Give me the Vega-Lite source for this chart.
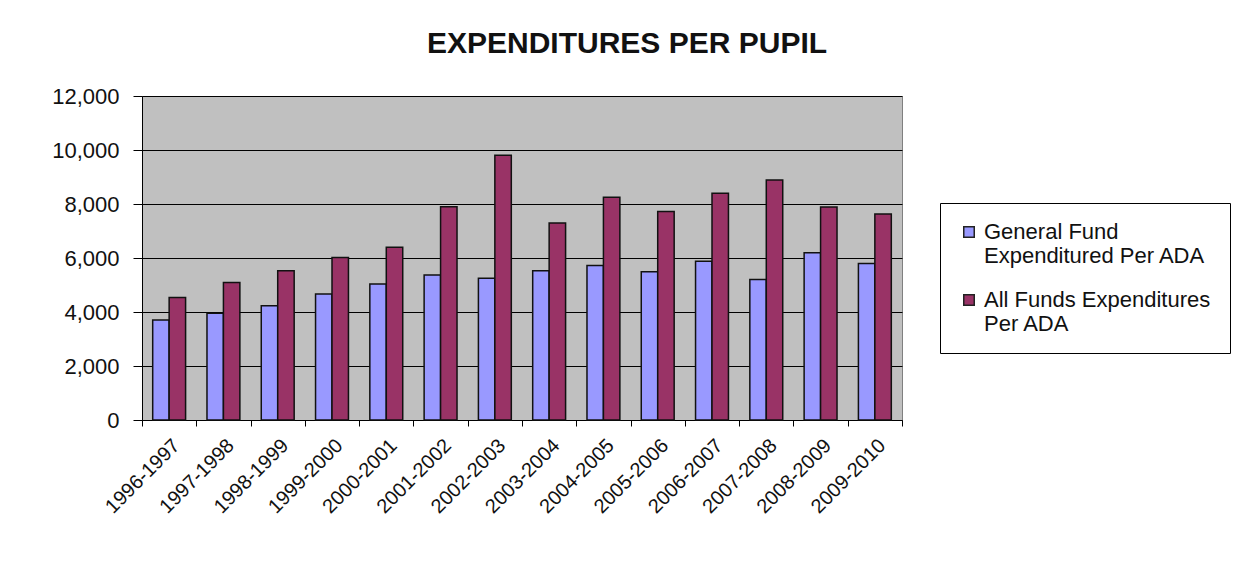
{
  "$schema": "https://vega.github.io/schema/vega-lite/v6.json",
  "width": 760,
  "height": 324,
  "autosize": "none",
  "padding": {"left": 142, "top": 96, "right": 351, "bottom": 158},
  "background": "white",
  "title": {
    "text": "EXPENDITURES PER PUPIL",
    "anchor": "middle",
    "frame": "group",
    "dx": 105,
    "offset": 26,
    "fontSize": 30,
    "fontWeight": "bold",
    "font": "Liberation Sans",
    "color": "#111"
  },
  "config": {
    "font": "Liberation Sans",
    "view": {"fill": "#c0c0c0", "stroke": "#808080", "strokeWidth": 1}
  },
  "data": {
    "values": [
      {"year": "1996-1997", "series": "General Fund Expenditured  Per ADA", "value": 3700},
      {"year": "1996-1997", "series": "All Funds Expenditures Per ADA", "value": 4540},
      {"year": "1997-1998", "series": "General Fund Expenditured  Per ADA", "value": 3950},
      {"year": "1997-1998", "series": "All Funds Expenditures Per ADA", "value": 5090},
      {"year": "1998-1999", "series": "General Fund Expenditured  Per ADA", "value": 4230},
      {"year": "1998-1999", "series": "All Funds Expenditures Per ADA", "value": 5530},
      {"year": "1999-2000", "series": "General Fund Expenditured  Per ADA", "value": 4670},
      {"year": "1999-2000", "series": "All Funds Expenditures Per ADA", "value": 6020},
      {"year": "2000-2001", "series": "General Fund Expenditured  Per ADA", "value": 5040},
      {"year": "2000-2001", "series": "All Funds Expenditures Per ADA", "value": 6400},
      {"year": "2001-2002", "series": "General Fund Expenditured  Per ADA", "value": 5370},
      {"year": "2001-2002", "series": "All Funds Expenditures Per ADA", "value": 7900},
      {"year": "2002-2003", "series": "General Fund Expenditured  Per ADA", "value": 5250},
      {"year": "2002-2003", "series": "All Funds Expenditures Per ADA", "value": 9810},
      {"year": "2003-2004", "series": "General Fund Expenditured  Per ADA", "value": 5530},
      {"year": "2003-2004", "series": "All Funds Expenditures Per ADA", "value": 7300},
      {"year": "2004-2005", "series": "General Fund Expenditured  Per ADA", "value": 5720},
      {"year": "2004-2005", "series": "All Funds Expenditures Per ADA", "value": 8250},
      {"year": "2005-2006", "series": "General Fund Expenditured  Per ADA", "value": 5490},
      {"year": "2005-2006", "series": "All Funds Expenditures Per ADA", "value": 7720},
      {"year": "2006-2007", "series": "General Fund Expenditured  Per ADA", "value": 5880},
      {"year": "2006-2007", "series": "All Funds Expenditures Per ADA", "value": 8400},
      {"year": "2007-2008", "series": "General Fund Expenditured  Per ADA", "value": 5200},
      {"year": "2007-2008", "series": "All Funds Expenditures Per ADA", "value": 8890},
      {"year": "2008-2009", "series": "General Fund Expenditured  Per ADA", "value": 6190},
      {"year": "2008-2009", "series": "All Funds Expenditures Per ADA", "value": 7890},
      {"year": "2009-2010", "series": "General Fund Expenditured  Per ADA", "value": 5800},
      {"year": "2009-2010", "series": "All Funds Expenditures Per ADA", "value": 7630}
    ]
  },
  "mark": {"type": "bar", "stroke": "#111", "strokeWidth": 1.5},
  "encoding": {
    "x": {
      "field": "year",
      "type": "nominal",
      "sort": null,
      "scale": {"paddingInner": 0, "paddingOuter": 0},
      "axis": {
        "title": null,
        "labelAngle": -45,
        "labelAlign": "right",
        "labelBaseline": "top",
        "labelFontSize": 20,
        "labelColor": "#111",
        "labelPadding": 9,
        "tickBand": "extent",
        "tickColor": "#000",
        "tickSize": 6,
        "domainColor": "#000",
        "domainWidth": 1,
        "grid": false
      }
    },
    "xOffset": {
      "field": "series",
      "type": "nominal",
      "scale": {
        "domain": ["General Fund Expenditured  Per ADA", "All Funds Expenditures Per ADA"],
        "paddingInner": 0,
        "paddingOuter": 0.65
      }
    },
    "y": {
      "field": "value",
      "type": "quantitative",
      "scale": {"domain": [0, 12000], "nice": false},
      "axis": {
        "title": null,
        "values": [0, 2000, 4000, 6000, 8000, 10000, 12000],
        "format": ",d",
        "labelFontSize": 22,
        "labelColor": "#111",
        "labelPadding": 14,
        "tickColor": "#000",
        "tickSize": 9,
        "domainColor": "#000",
        "gridColor": "#000",
        "gridWidth": 1,
        "gridOpacity": 1
      }
    },
    "color": {
      "field": "series",
      "type": "nominal",
      "scale": {
        "domain": ["General Fund Expenditured  Per ADA", "All Funds Expenditures Per ADA"],
        "range": ["#9999ff", "#993366"]
      },
      "legend": {
        "title": null,
        "orient": "none",
        "legendX": 798,
        "legendY": 107,
        "strokeColor": "#000",
        "fillColor": "#fff",
        "padding": 18,
        "symbolType": "square",
        "symbolSize": 110,
        "symbolStrokeColor": "#222",
        "symbolStrokeWidth": 1.5,
        "labelFontSize": 22,
        "labelLineHeight": 23,
        "labelColor": "#111",
        "labelLimit": 400,
        "labelOffset": 4,
        "rowPadding": 22,
        "labelExpr": "datum.label == 'General Fund Expenditured  Per ADA' ? ['General Fund', 'Expenditured  Per ADA'] : ['All Funds Expenditures', 'Per ADA']"
      }
    }
  }
}
